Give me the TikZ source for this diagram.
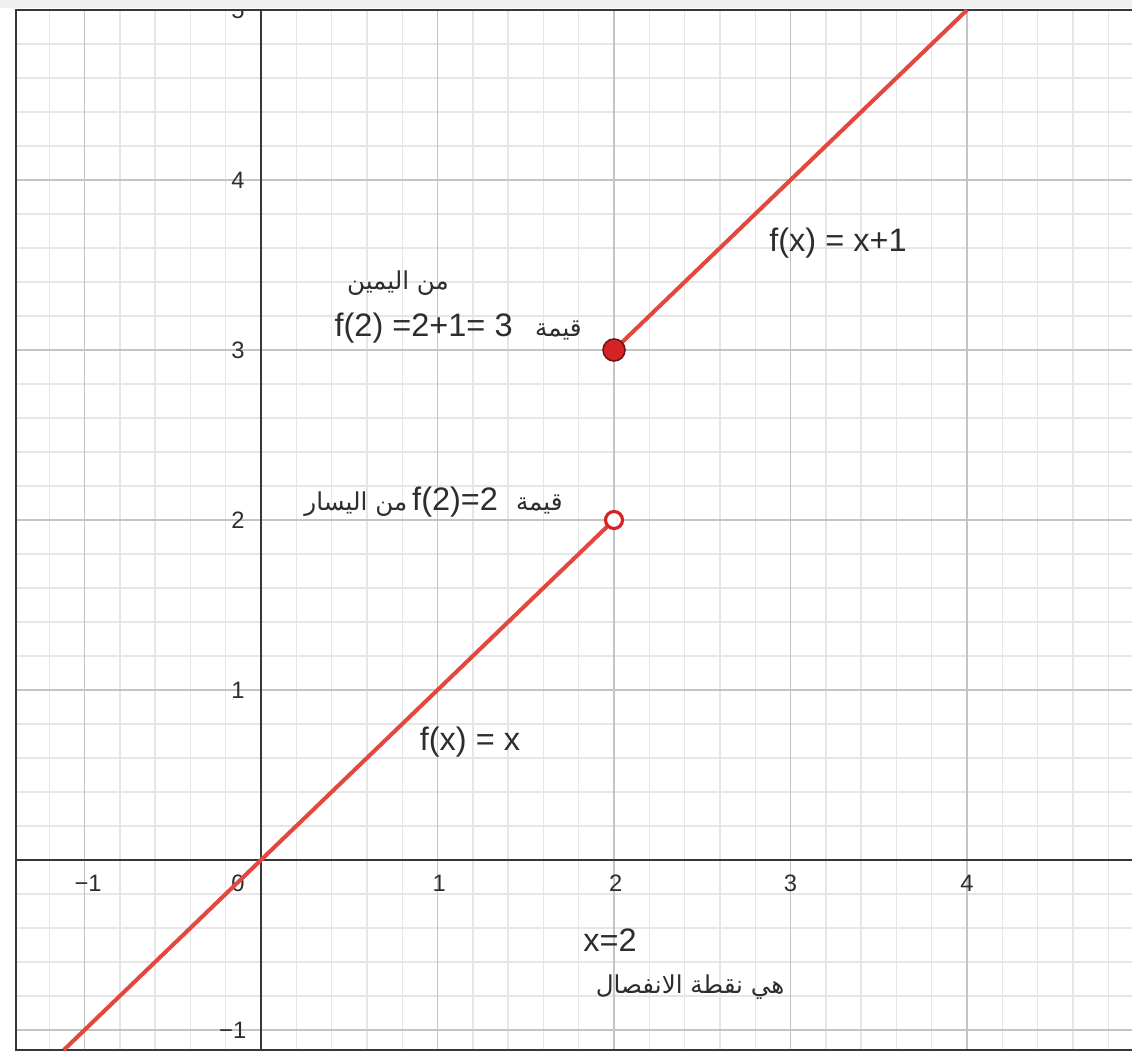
\documentclass[tikz,border=0pt]{standalone}
\usepackage{fontspec}
\setmainfont{Liberation Sans}
\newfontfamily\arfont[Script=Arabic]{DejaVu Sans}
\TeXXeTstate=1
\definecolor{minorgrid}{RGB}{230,230,230}
\definecolor{majorgrid}{RGB}{196,196,196}
\definecolor{axiscol}{RGB}{55,55,55}
\definecolor{fred}{RGB}{226,72,62}
\definecolor{dotred}{RGB}{214,34,34}
\definecolor{dotedge}{RGB}{110,20,20}
\definecolor{txt}{RGB}{45,45,45}
\newcommand{\arsmall}{\arfont\fontsize{14}{16}\selectfont}
\begin{document}
\begin{tikzpicture}[x=3.53cm,y=3.4cm,
  minorline/.style={draw=minorgrid,line width=0.8pt},
  majorline/.style={draw=majorgrid,line width=1.1pt},
  axisline/.style={draw=axiscol,line width=1.3pt},
  frameline/.style={draw=axiscol,line width=1.3pt},
  graph/.style={draw=fred,line width=2.3pt},
  ticklab/.style={text=txt,font=\fontsize{13.5}{15}\selectfont,inner sep=0pt},
  lab/.style={text=txt,font=\fontsize{18.5}{21}\selectfont,inner sep=0pt},
  arlab/.style={text=txt,font=\arsmall,inner sep=0pt},
  filldot/.style={circle,fill=dotred,draw=dotedge,line width=0.9pt,minimum size=0.44cm,inner sep=0pt},
  opendot/.style={circle,fill=white,draw=dotred,line width=1.8pt,minimum size=0.34cm,inner sep=0pt}]
\useasboundingbox (-1.4788,-1.1294) rectangle (4.9348,5.0588);
\fill[gray!12] (-1.4788,5.0118) rectangle (4.9348,5.0588);
\begin{scope}
  \clip (-1.388,-1.1176) rectangle (4.9348,5.0);
  \draw[minorline,step=0.2] (-1.6,-1.2) grid (5,5.2);
  \draw[majorline,step=1] (-2,-2) grid (5,5.2);
  \draw[axisline] (-1.5,0) -- (5,0);
  \draw[axisline] (0,-1.2) -- (0,5.2);
  % x tick labels
  \node[ticklab] (xm1) at (-0.98,-0.135) {−1};
  \node[ticklab] (x0) at (-0.13,-0.135) {0};
  \node[ticklab] (x1) at (1.01,-0.135) {1};
  \node[ticklab] (x2) at (2.01,-0.135) {2};
  \node[ticklab] (x3) at (3.0,-0.135) {3};
  \node[ticklab] (x4) at (4.0,-0.135) {4};
  % y tick labels
  \node[ticklab] (ym1) at (-0.16,-1) {−1};
  \node[ticklab] (y1) at (-0.13,1) {1};
  \node[ticklab] (y2) at (-0.13,2) {2};
  \node[ticklab] (y3) at (-0.13,3) {3};
  \node[ticklab] (y4) at (-0.13,4) {4};
  \node[ticklab] (y5) at (-0.13,5) {5};
\end{scope}
\draw[frameline] (4.9348,5.0) -- (-1.388,5.0) -- (-1.388,-1.1176) -- (4.9348,-1.1176);
% graph
\coordinate (S1) at (-1.1176,-1.1176);
\coordinate (A) at (2,2);
\coordinate (B) at (2,3);
\coordinate (E2) at (4,5);
\draw[graph] (S1) -- (A);
\draw[graph] (B) -- (E2);
\node[opendot] (P2) at (A) {};
\node[filldot] (P3) at (B) {};
% labels
\node[lab] (f2) at (3.269,3.629) {f(x) = x+1};
\node[lab] (f1) at (1.184,0.694) {f(x) = x};
\node[lab] (xd) at (1.977,-0.471) {x=2};
\node[arlab] (disc) at (2.431,-0.745) {\beginR هي نقطة الانفصال\endR};
\node[arlab] (right) at (0.776,3.394) {\beginR من اليمين\endR};
\node[lab,anchor=east] (v3) at (1.819,3.129) {\beginR{\arsmall قيمة}\hspace{0.45cm}\beginL f(2) =2+1= 3\endL\endR};
\node[lab,anchor=east] (v2) at (1.711,2.106) {\beginR{\arsmall قيمة}\hspace{0.36cm}\beginL f(2)=2\endL\hspace{0.1cm}{\arsmall من اليسار}\endR};
\end{tikzpicture}
\end{document}
